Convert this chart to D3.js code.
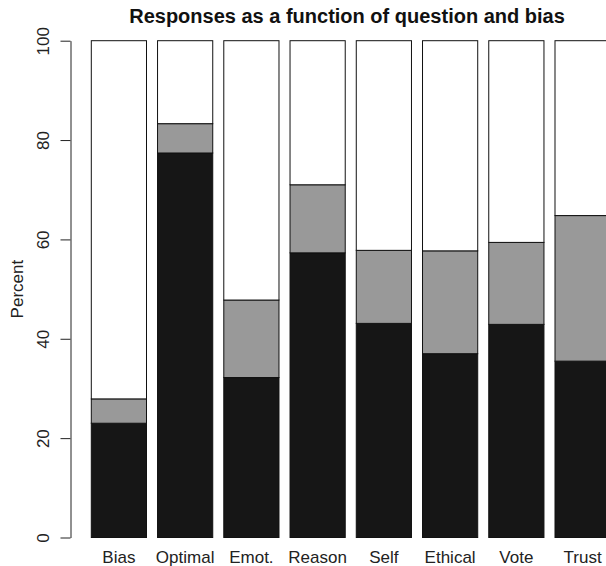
<!DOCTYPE html>
<meta charset="utf-8">
<style>
  body { margin: 0; background: #fff; overflow: hidden; }
  svg { display: block; font-family: "Liberation Sans", Arial, sans-serif; }
</style>

<body>
  <div id="bar_chart"></div>
  <script src="https://d3js.org/d3.v7.min.js"></script>
  <script>
    var categories = ["Bias", "Optimal", "Emot.", "Reason", "Self", "Ethical", "Vote", "Trust"];

    // percent of responses, stacked bottom to top
    var blackVals = [23.0, 77.4, 32.2, 57.3, 43.1, 37.0, 42.9, 35.5];
    var grayVals = [4.9, 5.9, 15.6, 13.7, 14.7, 20.7, 16.5, 29.3];
    var whiteVals = [72.1, 16.7, 52.2, 29.0, 42.2, 42.3, 40.6, 35.2];

    var yTicks = [0, 20, 40, 60, 80, 100];

    var data = categories.map(function(c, i) {
      return { name: c, black: blackVals[i], gray: grayVals[i], white: whiteVals[i] };
    });

    var keys = ["black", "gray", "white"];
    var colors = { black: "#161616", gray: "#999999", white: "#ffffff" };

    var W = 606, H = 566;

    var svg = d3.select("#bar_chart")
      .append("svg")
      .attr("width", W)
      .attr("height", H);

    // bars run past the right edge like in the original (cropped plot)
    var x = d3.scaleBand()
      .domain(categories)
      .range([91.3, 610.2])
      .paddingInner(0.2 / 1.2)
      .paddingOuter(0);

    var y = d3.scaleLinear()
      .domain([0, 100])
      .range([537.5, 40.7]);

    var stacked = d3.stack().keys(keys)(data);

    svg.selectAll("g.layer")
      .data(stacked)
      .enter().append("g")
      .attr("class", "layer")
      .style("fill", function(d) { return colors[d.key]; })
      .selectAll("rect")
      .data(function(d) { return d; })
      .enter().append("rect")
      .attr("x", function(d) { return x(d.data.name); })
      .attr("y", function(d) { return y(d[1]); })
      .attr("width", x.bandwidth())
      .attr("height", function(d) { return y(d[0]) - y(d[1]); })
      .style("stroke", "#111")
      .style("stroke-width", 1);

    // y axis, R style
    var yAxis = d3.axisLeft(y)
      .tickValues(yTicks)
      .tickSize(10)
      .tickSizeOuter(0)
      .tickPadding(0);

    var gy = svg.append("g")
      .attr("class", "y axis")
      .attr("transform", "translate(70.5,0)")
      .call(yAxis);

    gy.select(".domain").attr("stroke", "#222").attr("stroke-width", 1);
    gy.selectAll(".tick line").attr("stroke", "#222");
    gy.selectAll(".tick text")
      .attr("x", null)
      .attr("dy", null)
      .attr("transform", "translate(-21.5,0) rotate(-90)")
      .attr("text-anchor", "middle")
      .attr("fill", "#222")
      .style("font-size", "17px")
      .style("font-family", "'Liberation Sans', Arial, sans-serif");

    // category labels under bars
    svg.selectAll("text.cat")
      .data(categories)
      .enter().append("text")
      .attr("class", "cat")
      .attr("x", function(d) { return x(d) + x.bandwidth() / 2; })
      .attr("y", 563)
      .attr("text-anchor", "middle")
      .attr("fill", "#222")
      .style("font-size", "17px")
      .text(function(d) { return d; });

    svg.append("text")
      .attr("transform", "translate(23," + (y(50)) + ") rotate(-90)")
      .attr("text-anchor", "middle")
      .attr("fill", "#222")
      .style("font-size", "17px")
      .text("Percent");

    svg.append("text")
      .attr("x", 347)
      .attr("y", 22.7)
      .attr("text-anchor", "middle")
      .attr("fill", "#111")
      .style("font-size", "20px")
      .style("font-weight", "bold")
      .text("Responses as a function of question and bias");
  </script>
</body>
